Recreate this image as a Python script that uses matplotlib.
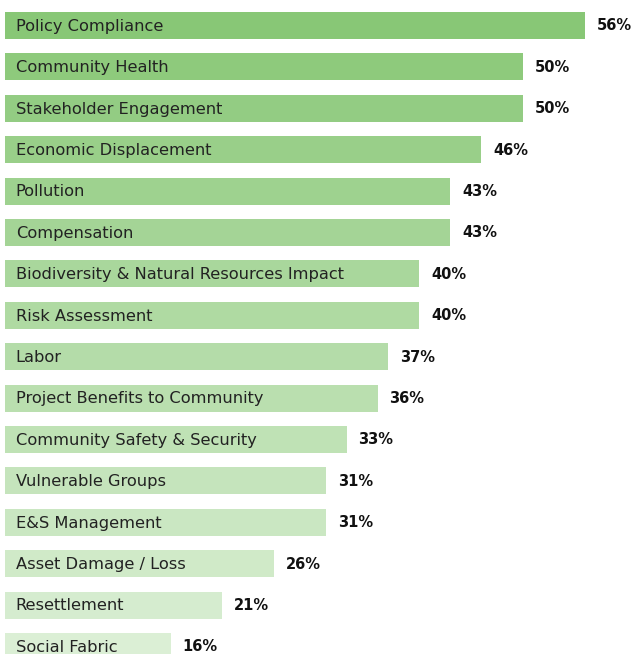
import numpy as np
import matplotlib.pyplot as plt
from matplotlib.colors import to_rgb

categories = ["Policy Compliance", "Community Health", "Stakeholder Engagement",
              "Economic Displacement", "Pollution", "Compensation",
              "Biodiversity & Natural Resources Impact", "Risk Assessment", "Labor",
              "Project Benefits to Community", "Community Safety & Security",
              "Vulnerable Groups", "E&S Management", "Asset Damage / Loss",
              "Resettlement", "Social Fabric"]
values = [56, 50, 50, 46, 43, 43, 40, 40, 37, 36, 33, 31, 31, 26, 21, 16]

# colour fades from darker green at the top to pale green at the bottom
c_top = np.array(to_rgb("#88c776"))
c_bot = np.array(to_rgb("#dbefd5"))
n = len(values)
colors = [c_top + (c_bot - c_top) * i / (n - 1) for i in range(n)]

fig = plt.figure(figsize=(6.33, 6.54), dpi=100)
ax = fig.add_axes([0, 0, 1, 1])
y = np.arange(n)
ax.barh(y, values, height=0.652, color=colors, left=0)

for i, (c, v) in enumerate(zip(categories, values)):
    ax.text(1.05, i + 0.13, c, va="baseline", ha="left", fontsize=11.7,
            color="#222222", family="DejaVu Sans")
    ax.text(v + 1.15, i + 0.12, f"{v}%", va="baseline", ha="left",
            fontsize=10.5, fontweight="bold", color="#111111", family="DejaVu Sans")

ax.set_xlim(-5 / 10.35, 628 / 10.35)
ax.set_ylim((654 - 25.5) / 41.4, -25.5 / 41.4)
ax.axis("off")
fig.savefig("out.png", dpi=100)
